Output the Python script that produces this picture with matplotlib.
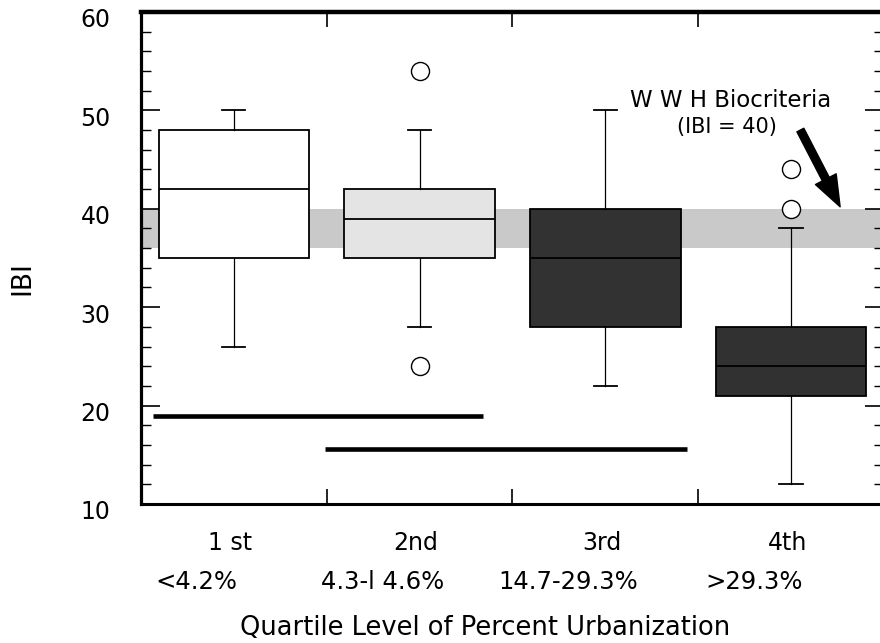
import numpy as np
import matplotlib.pyplot as plt
from matplotlib.ticker import MultipleLocator
from matplotlib.transforms import ScaledTranslation

plt.rcParams['font.family'] = ['DejaVu Sans']

# quartile groups and percent urbanization ranges
quartiles = ['1 st', '2nd', '3rd', '4th']
ranges = ['<4.2%', '4.3-l 4.6%', '14.7-29.3%', '>29.3%']

# box statistics for IBI
q1 = [35, 35, 28, 21]
med = [42, 39, 35, 24]
q3 = [48, 42, 40, 28]
whis_lo = [26, 28, 22, 12]
whis_hi = [50, 48, 50, 38]
outliers = [[], [54, 24], [], [44, 40]]

# WWH biocriteria band
band_lo = 36
band_hi = 40

# groups that are not significantly different (horizontal bars)
group_y = [18.9, 15.6]
group_start = [0.565, 1.49]
group_end = [2.34, 3.44]

box_colors = ['white', '#e4e4e4', '#323232', '#313131']

stats = []
for i in range(len(quartiles)):
    stats.append(dict(q1=q1[i], med=med[i], q3=q3[i], whislo=whis_lo[i],
                      whishi=whis_hi[i], fliers=outliers[i], label=quartiles[i]))

fig = plt.figure(figsize=(8.8, 6.43), dpi=100)
ax = fig.add_axes([0.1602, 0.2162, 0.8443, 0.7652])

ax.axhspan(band_lo, band_hi, color='#c9c9c9', zorder=0, lw=0)

pos = np.arange(1, len(quartiles) + 1)
bp = ax.bxp(stats, positions=pos, widths=0.81, capwidths=0.125, patch_artist=True,
            boxprops=dict(edgecolor='black', linewidth=1.3),
            whiskerprops=dict(color='black', linewidth=0.9),
            capprops=dict(color='black', linewidth=1.3),
            medianprops=dict(color='black', linewidth=1.3),
            flierprops=dict(marker='o', markersize=13, markerfacecolor='white',
                            markeredgecolor='black', markeredgewidth=1.0),
            zorder=2)
for patch, c in zip(bp['boxes'], box_colors):
    patch.set_facecolor(c)

for y, x0, x1 in zip(group_y, group_start, group_end):
    ax.plot([x0, x1], [y, y], color='black', lw=3.3, solid_capstyle='butt', zorder=3)

ax.set_xlim(0.5, 4.5)
ax.set_ylim(10, 60)

# annotation
ax.text(3.672, 51.0, 'W W H Biocriteria', ha='center', va='center', fontsize=16.5)
ax.text(3.656, 48.3, '(IBI = 40)', ha='center', va='center', fontsize=15)
ax.annotate('', xy=(4.264, 40.2), xytext=(4.05, 48.0),
            arrowprops=dict(arrowstyle='simple,head_length=0.8,head_width=0.6,tail_width=0.2',
                            color='black', mutation_scale=28, shrinkA=0, shrinkB=0))

# ticks
ax.set_yticks(np.arange(10, 61, 10))
ax.yaxis.set_minor_locator(MultipleLocator(2))
ax.tick_params(axis='y', which='major', direction='in', length=14, width=1.2,
               left=True, right=True, labelsize=17, pad=22)
ax.tick_params(axis='y', which='minor', direction='in', length=7, width=1.0,
               left=True, right=True)
for lab in ax.get_yticklabels():
    lab.set_transform(lab.get_transform() + ScaledTranslation(0, -6 / 100, fig.dpi_scale_trans))

ax.set_xticks([1.5, 2.5, 3.5])
ax.set_xticklabels([])
ax.tick_params(axis='x', which='major', direction='in', length=11, width=1.2,
               top=True, bottom=True)

trans = ax.get_xaxis_transform()
for i, (qt, rg) in enumerate(zip(quartiles, ranges)):
    ax.text(pos[i] - 0.02, -0.079, qt, transform=trans, ha='center', va='center', fontsize=17)
    ax.text(pos[i] - 0.2, -0.1585, rg, transform=trans, ha='center', va='center', fontsize=17.5)

ax.spines['top'].set_linewidth(3.2)
ax.spines['left'].set_linewidth(2.3)
ax.spines['bottom'].set_linewidth(2.2)
ax.spines['right'].set_linewidth(1.0)

ax.set_ylabel('IBI', fontsize=19)
ax.yaxis.set_label_coords(-0.1427, 0.46)

fig.text(485 / 880, 1 - 628 / 643, 'Quartile Level of Percent Urbanization',
         ha='center', va='center', fontsize=18.5)

fig.savefig('out.png', dpi=100)
